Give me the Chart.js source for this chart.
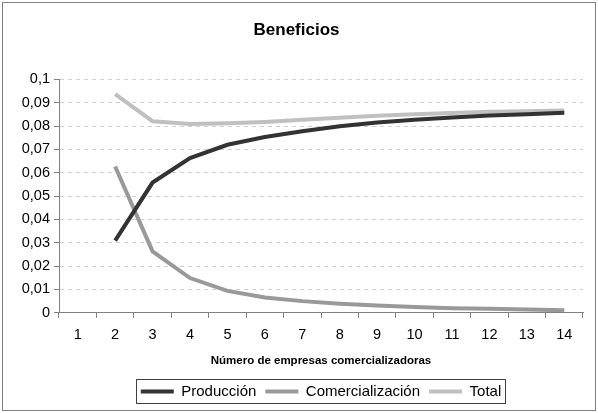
<!DOCTYPE html>
<html>
<head>
<meta charset="utf-8">
<script src="https://cdn.jsdelivr.net/npm/chart.js"></script>
<style>
  html, body { margin: 0; padding: 0; background: #fff; }
  #wrap { width: 598px; height: 413px; }
</style>
</head>
<body>
<div id="wrap"><canvas id="chart" width="598" height="413"></canvas></div>
<script>
// Chart data
const categories = ['1', '2', '3', '4', '5', '6', '7', '8', '9', '10', '11', '12', '13', '14'];
const produccion = [null, 0.0309, 0.0558, 0.0663, 0.0720, 0.0753, 0.0778, 0.0799, 0.0815, 0.0827, 0.0837, 0.0845, 0.0851, 0.0857];
const comercializacion = [null, 0.0627, 0.0263, 0.0149, 0.0094, 0.0066, 0.0050, 0.0039, 0.0031, 0.0025, 0.0020, 0.0017, 0.0014, 0.0011];
const total = [null, 0.0937, 0.0821, 0.0809, 0.0812, 0.0818, 0.0827, 0.0836, 0.0844, 0.0851, 0.0856, 0.0861, 0.0864, 0.0867];

const FONT = "'Liberation Sans', Arial, sans-serif";

// Outer frame, plus a box drawn tight around the legend items
const framePlugin = {
    id: 'frame',
    afterDraw(chart) {
        const ctx = chart.ctx;
        ctx.save();
        ctx.strokeStyle = '#808080';
        ctx.lineWidth = 1;
        ctx.strokeRect(2.5, 2.5, 593, 408);
        const boxes = chart.legend.legendHitBoxes;
        if (boxes && boxes.length) {
            const left = Math.min(...boxes.map(b => b.left)) - 5;
            const right = Math.max(...boxes.map(b => b.left + b.width)) + 4;
            const top = Math.min(...boxes.map(b => b.top)) - 5;
            const bottom = Math.max(...boxes.map(b => b.top + b.height)) + 4;
            ctx.strokeStyle = '#404040';
            ctx.strokeRect(Math.round(left) + 0.5, Math.round(top) + 0.5, Math.round(right - left), Math.round(bottom - top));
        }
        ctx.restore();
    }
};

function makeSet(label, data, color) {
    return {
        label: label,
        data: data,
        borderColor: color,
        backgroundColor: color,
        borderWidth: 4,
        pointRadius: 0,
        tension: 0,
        fill: false
    };
}

new Chart(document.getElementById('chart'), {
    type: 'line',
    data: {
        labels: categories,
        datasets: [
            makeSet('Producción', produccion, '#333333'),
            makeSet('Comercialización', comercializacion, '#999999'),
            makeSet('Total', total, '#c0c0c0')
        ]
    },
    plugins: [framePlugin],
    options: {
        responsive: false,
        animation: false,
        layout: { padding: { left: 10, right: 15, top: 0, bottom: 4 } },
        plugins: {
            title: {
                display: true,
                text: 'Beneficios',
                color: '#000',
                font: { family: FONT, size: 17, weight: 'bold' },
                padding: { top: 20, bottom: 39 }
            },
            legend: {
                position: 'bottom',
                fullSize: false,
                labels: {
                    color: '#000',
                    font: { family: FONT, size: 15 },
                    boxWidth: 33,
                    boxHeight: 4,
                    padding: 9,
                    generateLabels(chart) {
                        return Chart.defaults.plugins.legend.labels.generateLabels(chart).map(item => {
                            item.lineWidth = 0;
                            return item;
                        });
                    }
                }
            },
            tooltip: { enabled: false }
        },
        scales: {
            x: {
                offset: true,
                grid: {
                    offset: true,
                    drawOnChartArea: false,
                    drawTicks: true,
                    tickLength: 5,
                    tickColor: '#808080'
                },
                border: { color: '#808080', width: 1 },
                ticks: {
                    color: '#000',
                    font: { family: FONT, size: 14.5 },
                    maxRotation: 0,
                    autoSkip: false,
                    padding: 8
                },
                title: {
                    display: true,
                    text: 'Número de empresas comercializadoras',
                    color: '#000',
                    font: { family: FONT, size: 11.5, weight: 'bold' },
                    padding: { top: 3, bottom: 7 }
                }
            },
            y: {
                min: 0,
                max: 0.1,
                ticks: {
                    stepSize: 0.01,
                    color: '#000',
                    font: { family: FONT, size: 14.5 },
                    padding: 4,
                    callback: v => String(Number(v.toFixed(2))).replace('.', ',')
                },
                grid: {
                    color: '#d0d0d0',
                    tickColor: '#808080',
                    tickLength: 5
                },
                border: { color: '#808080', width: 1, dash: [4, 4] },
                afterFit(scale) { scale.width = 49; }
            }
        }
    }
});
</script>
</body>
</html>
